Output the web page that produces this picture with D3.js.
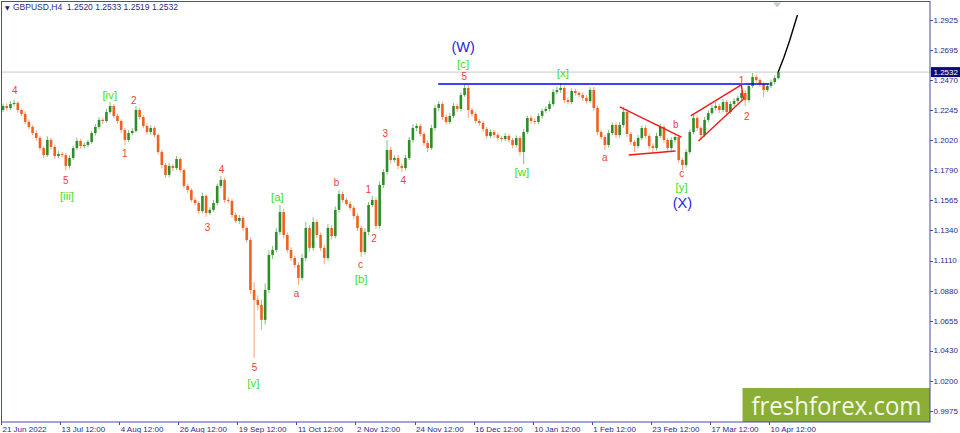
<!DOCTYPE html>
<html>
<head>
<meta charset="utf-8">
<script src="https://cdn.jsdelivr.net/npm/d3@7"></script>
<style>
  body { margin: 0; background: #fff; }
  svg { display: block; }
</style>
</head>
<body>
<svg id="chart"></svg>
<script>
// GBPUSD, daily-ish bars
const firstOpen = 1.2246;
const closes = [
  1.2276, 1.2261, 1.2291, 1.2299, 1.2246, 1.2216, 1.2156, 1.2118, 1.2072, 1.2035,
  1.1959, 1.1906, 1.2020, 1.1967, 1.1899, 1.1914, 1.1906, 1.1824, 1.1884, 1.1959,
  1.2012, 1.1974, 1.1982, 1.2005, 1.2072, 1.2118, 1.2171, 1.2163, 1.2231, 1.2276,
  1.2201, 1.2163, 1.2095, 1.2020, 1.2072, 1.2088, 1.2246, 1.2193, 1.2125, 1.2080,
  1.2110, 1.2057, 1.1929, 1.1831, 1.1756, 1.1824, 1.1808, 1.1876, 1.1793, 1.1673,
  1.1642, 1.1567, 1.1544, 1.1484, 1.1597, 1.1469, 1.1492, 1.1544, 1.1673, 1.1718,
  1.1567, 1.1560, 1.1454, 1.1409, 1.1431, 1.1356, 1.1265, 1.0888, 1.0813, 1.0775,
  1.0662, 1.0888, 1.1152, 1.1190, 1.1326, 1.1476, 1.1303, 1.1190, 1.1129, 1.1077,
  1.0979, 1.1129, 1.1356, 1.1205, 1.1401, 1.1303, 1.1205, 1.1129, 1.1356, 1.1295,
  1.1492, 1.1612, 1.1567, 1.1537, 1.1507, 1.1446, 1.1356, 1.1175, 1.1326, 1.1529,
  1.1567, 1.1371, 1.1680, 1.1778, 1.1944, 1.1869, 1.1884, 1.1824, 1.1808, 1.1884,
  1.2020, 1.2110, 1.2125, 1.2065, 1.1997, 1.1959, 1.2110, 1.2261, 1.2291, 1.2193,
  1.2156, 1.2201, 1.2276, 1.2254, 1.2359, 1.2412, 1.2246, 1.2216, 1.2163, 1.2148,
  1.2103, 1.2050, 1.2080, 1.2057, 1.2035, 1.2027, 1.2050, 1.2020, 1.1982, 1.2035,
  1.1929, 1.2080, 1.2186, 1.2163, 1.2156, 1.2201, 1.2239, 1.2254, 1.2291, 1.2382,
  1.2397, 1.2412, 1.2321, 1.2306, 1.2389, 1.2374, 1.2359, 1.2337, 1.2314, 1.2397,
  1.2261, 1.2080, 1.2042, 1.1982, 1.2072, 1.2133, 1.2057, 1.2133, 1.2231, 1.2065,
  1.2005, 1.1974, 1.2035, 1.2110, 1.2050, 1.1974, 1.1959, 1.2050, 1.2118, 1.2020,
  1.1959, 1.2020, 1.2042, 1.1869, 1.1831, 1.1929, 1.2080, 1.2186, 1.2110, 1.2057,
  1.2171, 1.2223, 1.2261, 1.2276, 1.2246, 1.2306, 1.2231, 1.2291, 1.2314, 1.2337,
  1.2374, 1.2321, 1.2427, 1.2495, 1.2472, 1.2442, 1.2397, 1.2427, 1.2457, 1.2487,
  1.2533
];
// wick lengths in pips above / below the body
const wickUp = [
  18, 20, 22, 25, 15, 12, 20, 18, 14, 20,
  16, 12, 28, 15, 18, 22, 14, 16, 20, 18,
  25, 14, 20, 16, 18, 22, 20, 15, 24, 30,
  14, 18, 12, 16, 22, 20, 30, 18, 14, 20,
  22, 15, 12, 18, 14, 24, 16, 23, 15, 12,
  18, 14, 20, 16, 25, 14, 20, 22, 18, 30,
  16, 20, 14, 18, 22, 15, 12, 20, 60, 35,
  40, 50, 35, 30, 28, 53, 25, 20, 22, 18,
  20, 30, 45, 22, 35, 20, 18, 25, 30, 22,
  26, 30, 20, 18, 22, 16, 20, 18, 28, 24,
  30, 20, 28, 22, 76, 25, 20, 22, 18, 24,
  22, 28, 20, 18, 16, 20, 24, 26, 22, 18,
  20, 24, 22, 18, 20, 30, 22, 16, 18, 14,
  18, 14, 20, 16, 18, 14, 22, 16, 15, 20,
  14, 22, 18, 20, 16, 22, 18, 20, 24, 22,
  25, 38, 18, 22, 20, 18, 16, 20, 22, 20,
  22, 18, 14, 16, 24, 20, 18, 22, 38, 20,
  16, 14, 22, 20, 18, 16, 20, 24, 22, 16,
  14, 20, 18, 16, 14, 22, 20, 30, 18, 16,
  22, 20, 24, 30, 18, 22, 16, 20, 22, 18,
  20, 22, 24, 30, 18, 16, 14, 20, 18, 22,
  12
];
const wickDown = [
  15, 20, 18, 14, 22, 16, 18, 20, 15, 22,
  18, 25, 15, 20, 22, 16, 18, 35, 20, 15,
  14, 18, 20, 16, 15, 20, 18, 22, 14, 16,
  18, 20, 22, 38, 16, 18, 14, 20, 16, 18,
  22, 20, 18, 24, 20, 16, 22, 14, 18, 20,
  22, 16, 20, 24, 18, 30, 16, 14, 20, 18,
  22, 18, 20, 16, 22, 24, 20, 30, 438, 40,
  76, 35, 25, 30, 20, 22, 26, 20, 24, 22,
  53, 20, 22, 26, 20, 24, 22, 45, 20, 26,
  18, 20, 22, 16, 20, 22, 24, 38, 20, 22,
  18, 23, 20, 24, 22, 26, 20, 24, 30, 18,
  16, 20, 24, 18, 22, 30, 16, 20, 24, 22,
  20, 18, 16, 22, 18, 14, 60, 20, 18, 22,
  20, 22, 16, 20, 22, 18, 16, 20, 24, 18,
  26, 90, 16, 20, 18, 16, 20, 14, 18, 16,
  18, 20, 22, 18, 16, 20, 18, 22, 20, 16,
  24, 26, 20, 38, 18, 16, 22, 18, 20, 24,
  22, 45, 18, 16, 20, 24, 30, 18, 16, 22,
  24, 18, 20, 22, 38, 20, 16, 18, 22, 37,
  16, 18, 14, 20, 22, 18, 20, 16, 18, 14,
  16, 45, 18, 14, 20, 22, 53, 16, 14, 18,
  10
];

const timeLabels = ["21 Jun 2022", "13 Jul 12:00", "4 Aug 12:00", "26 Aug 12:00", "19 Sep 12:00",
  "11 Oct 12:00", "2 Nov 12:00", "24 Nov 12:00", "16 Dec 12:00", "10 Jan 12:00",
  "1 Feb 12:00", "23 Feb 12:00", "17 Mar 12:00", "10 Apr 12:00"];
const priceTicks = [1.2925, 1.2695, 1.2470, 1.2245, 1.2020, 1.1790, 1.1565,
  1.1340, 1.1110, 1.0880, 1.0655, 1.0430, 1.0200, 0.9975];
const lastBar = { open: 1.2520, high: 1.2533, low: 1.2519, close: 1.2532 };

// wave marks: [text, bar position, price, kind]
const waveLabels = [
  ["4", 3.2, 1.2397, "r"], ["5", 17.0, 1.1718, "r"], ["[iii]", 17.3, 1.1600, "g"],
  ["[iv]", 28.9, 1.2359, "g"], ["2", 35.4, 1.2321, "r"], ["1", 33.0, 1.1921, "r"],
  ["3", 55.4, 1.1363, "r"], ["4", 59.2, 1.1801, "r"], ["5", 68.1, 1.0300, "r"],
  ["[v]", 67.8, 1.0190, "g"], ["[a]", 74.3, 1.1590, "g"], ["a", 79.5, 1.0865, "r"],
  ["b", 90.3, 1.1703, "r"], ["c", 96.8, 1.1084, "r"], ["[b]", 97.0, 1.0971, "g"],
  ["1", 98.9, 1.1650, "r"], ["2", 100.5, 1.1280, "r"], ["3", 103.5, 1.2072, "r"],
  ["4", 108.4, 1.1718, "r"], ["5", 124.9, 1.2503, "r"], ["[c]", 124.6, 1.2593, "g"],
  ["(W)", 124.6, 1.2721, "b"], ["[w]", 140.5, 1.1778, "g"], ["[x]", 151.6, 1.2525, "g"],
  ["a", 163.0, 1.1891, "r"], ["b", 182.2, 1.2140, "r"], ["c", 183.8, 1.1771, "r"],
  ["[y]", 183.8, 1.1668, "g"], ["(X)", 184.0, 1.1544, "b"], ["1", 200.0, 1.2472, "r"],
  ["2", 201.4, 1.2201, "r"]
];

const resistance = { from: 118.4, to: 208.1, price: 1.2442 };
// red trend lines: [bar1, price1, bar2, price2]
const trendLines = [
  [167.6, 1.2269, 184.3, 1.2042],
  [170.0, 1.1906, 182.7, 1.1937],
  [186.8, 1.2201, 200.5, 1.2435],
  [188.9, 1.2012, 201.1, 1.2329],
  [200.5, 1.2435, 201.1, 1.2329]
];
const projection = [[210.5, 1.2533], [212.0, 1.2640], [213.6, 1.2770], [215.7, 1.2963]];

const width = 960, height = 433;
const plot = { left: 2, right: 930, top: 1.5, bottom: 422 };

const svg = d3.select("#chart").attr("width", width).attr("height", height);

const x = d3.scaleLinear().domain([0, 208]).range([1, 769]);
const y = d3.scaleLinear().domain([0.9884, 1.3076]).range([423, 0]);

svg.append("defs").append("clipPath").attr("id", "plotClip")
  .append("rect")
  .attr("x", plot.left).attr("y", plot.top)
  .attr("width", plot.right - plot.left).attr("height", plot.bottom - plot.top);

const g = svg.append("g").attr("clip-path", "url(#plotClip)");

// bid line
g.append("line")
  .attr("x1", plot.left).attr("x2", plot.right)
  .attr("y1", y(lastBar.close)).attr("y2", y(lastBar.close))
  .style("stroke", "#c8c8c8").style("stroke-width", 1);

// candles
const bars = closes.map((c, i) => {
  const o = i === 0 ? firstOpen : closes[i - 1];
  return {
    i, o, c,
    h: Math.max(o, c) + wickUp[i] / 10000,
    l: Math.min(o, c) - wickDown[i] / 10000
  };
});

const candle = g.selectAll(".candle")
  .data(bars)
  .enter().append("g")
  .attr("class", "candle");

candle.append("line")
  .attr("x1", d => x(d.i + 0.55)).attr("x2", d => x(d.i + 0.55))
  .attr("y1", d => y(d.h)).attr("y2", d => y(d.l))
  .style("stroke", d => d.c >= d.o ? "#7fc07a" : "#f7a27c")
  .style("stroke-width", 1);

candle.append("rect")
  .attr("x", d => x(d.i + 0.55) - 1.3)
  .attr("width", 2.6)
  .attr("y", d => y(Math.max(d.o, d.c)))
  .attr("height", d => Math.max(1, Math.abs(y(d.o) - y(d.c))))
  .style("fill", d => d.c >= d.o ? "#2f8c2a" : "#f0601e");

// resistance level
g.append("line")
  .attr("x1", x(resistance.from)).attr("x2", x(resistance.to))
  .attr("y1", y(resistance.price)).attr("y2", y(resistance.price))
  .style("stroke", "#0000ff").style("stroke-width", 1.3);

// triangle and channel
g.selectAll(".trend")
  .data(trendLines)
  .enter().append("line")
  .attr("class", "trend")
  .attr("x1", d => x(d[0])).attr("y1", d => y(d[1]))
  .attr("x2", d => x(d[2])).attr("y2", d => y(d[3]))
  .style("stroke", "#f01818").style("stroke-width", 1.4);

// projected path
g.append("path")
  .datum(projection)
  .attr("d", d3.line().x(d => x(d[0])).y(d => y(d[1])))
  .style("fill", "none").style("stroke", "#000").style("stroke-width", 1.4)
  .style("stroke-linejoin", "round");

// wave labels
const labelStyle = {
  r: { fill: "#f23c3c", size: 10 },
  g: { fill: "#3ee01e", size: 11.5 },
  b: { fill: "#1f1fe6", size: 14.5 }
};
g.selectAll(".wave")
  .data(waveLabels)
  .enter().append("text")
  .attr("class", "wave")
  .attr("x", d => x(d[1] + 0.55))
  .attr("y", d => y(d[2]))
  .attr("dy", "0.36em")
  .attr("text-anchor", "middle")
  .style("font-family", "'Liberation Sans', Arial, sans-serif")
  .style("font-size", d => labelStyle[d[3]].size + "px")
  .style("fill", d => labelStyle[d[3]].fill)
  .text(d => d[0]);

// shift marker at top
g.append("path")
  .attr("d", `M${x(210.2) - 4},${plot.top + 1} L${x(210.2) + 4},${plot.top + 1} L${x(210.2)},${plot.top + 6} Z`)
  .style("fill", "#c8c8c8");

// watermark
const wm = svg.append("g");
wm.append("rect")
  .attr("x", 742.5).attr("y", 388).attr("width", plot.right - 742.5).attr("height", plot.bottom - 388)
  .style("fill", "#8bae36");
wm.append("text")
  .attr("x", 751.5).attr("y", 415)
  .attr("textLength", 170)
  .attr("lengthAdjust", "spacingAndGlyphs")
  .style("font-family", "'Open Sans', sans-serif")
  .style("font-size", "25px")
  .style("fill", "#f4f8ea")
  .text("freshforex.com");

// frame
const axisColor = "#4a4aa8";
svg.append("rect")
  .attr("x", plot.left - 0.5).attr("y", plot.top)
  .attr("width", plot.right - plot.left + 0.5).attr("height", plot.bottom - plot.top)
  .style("fill", "none").style("stroke", axisColor).style("stroke-width", 1);

// price axis
const yAxis = svg.append("g");
yAxis.selectAll("line")
  .data(priceTicks)
  .enter().append("line")
  .attr("x1", plot.right).attr("x2", plot.right + 3)
  .attr("y1", d => Math.round(y(d)) + 0.5).attr("y2", d => Math.round(y(d)) + 0.5)
  .style("stroke", axisColor);
yAxis.selectAll("text")
  .data(priceTicks)
  .enter().append("text")
  .attr("x", plot.right + 3.5)
  .attr("y", d => y(d))
  .attr("dy", "0.35em")
  .style("font-family", "'Liberation Sans', Arial, sans-serif")
  .style("font-size", "8px")
  .style("fill", "#2a2a8a")
  .text(d => d.toFixed(4));

// current price tag
svg.append("rect")
  .attr("x", plot.right + 1).attr("y", y(lastBar.close) - 5)
  .attr("width", width - plot.right - 1).attr("height", 10)
  .style("fill", "#0c0c78");
svg.append("text")
  .attr("x", plot.right + 3.5).attr("y", y(lastBar.close))
  .attr("dy", "0.35em")
  .style("font-family", "'Liberation Sans', Arial, sans-serif")
  .style("font-size", "8px")
  .style("fill", "#fff")
  .text(lastBar.close.toFixed(4));

// time axis
const xAxis = svg.append("g");
xAxis.selectAll("line")
  .data(timeLabels)
  .enter().append("line")
  .attr("x1", (d, k) => Math.round(x(k * 16)) + 0.5).attr("x2", (d, k) => Math.round(x(k * 16)) + 0.5)
  .attr("y1", plot.bottom).attr("y2", plot.bottom + 3)
  .style("stroke", axisColor);
xAxis.selectAll("text")
  .data(timeLabels)
  .enter().append("text")
  .attr("x", (d, k) => x(k * 16) + 1.5)
  .attr("y", 431.5)
  .style("font-family", "'Liberation Sans', Arial, sans-serif")
  .style("font-size", "8px")
  .style("fill", "#2a2a8a")
  .text(d => d);

// title
svg.append("text")
  .attr("x", 5).attr("y", 10)
  .style("font-family", "'DejaVu Sans', sans-serif")
  .style("font-size", "6px")
  .style("fill", "#1a1a7a")
  .text("\u25BC");
svg.append("text")
  .attr("x", 13).attr("y", 10)
  .attr("xml:space", "preserve")
  .style("font-family", "'Liberation Sans', Arial, sans-serif")
  .style("font-size", "8.5px")
  .style("fill", "#2a2a8a")
  .text(`GBPUSD,H4  ${lastBar.open.toFixed(4)} ${lastBar.high.toFixed(4)} ${lastBar.low.toFixed(4)} ${lastBar.close.toFixed(4)}`);
</script>
</body>
</html>
